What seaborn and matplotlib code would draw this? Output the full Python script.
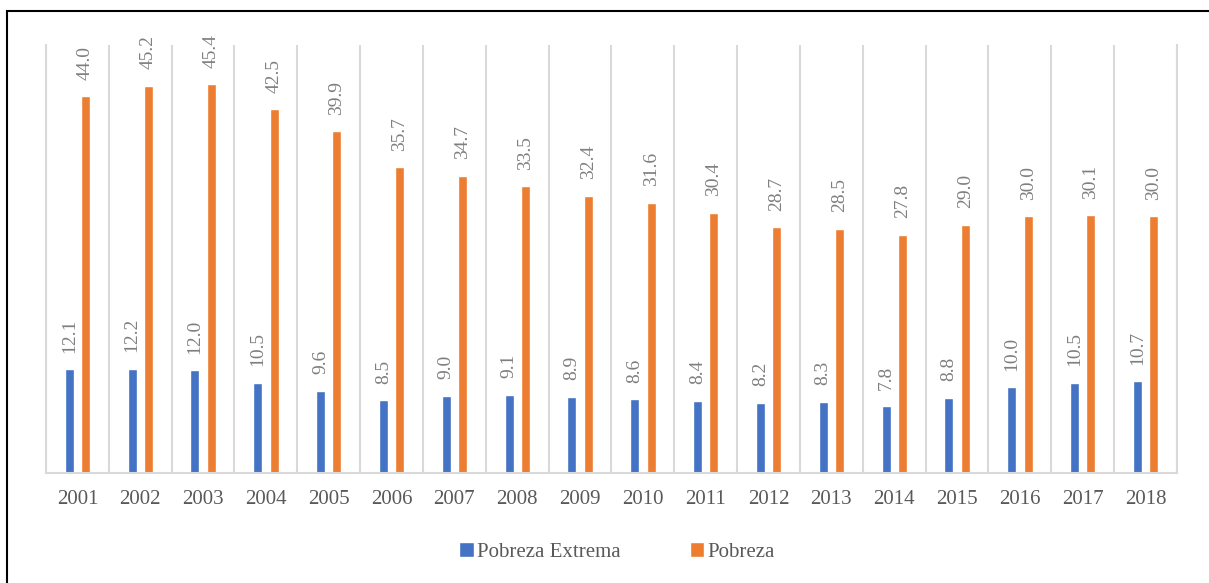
import matplotlib
matplotlib.use("Agg")
import matplotlib.pyplot as plt
import seaborn as sns
import pandas as pd
from matplotlib.patches import Rectangle

years = ["2001", "2002", "2003", "2004", "2005", "2006", "2007", "2008", "2009",
         "2010", "2011", "2012", "2013", "2014", "2015", "2016", "2017", "2018"]
pobreza_extrema = [12.1, 12.2, 12.0, 10.5, 9.6, 8.5, 9.0, 9.1, 8.9,
                   8.6, 8.4, 8.2, 8.3, 7.8, 8.8, 10.0, 10.5, 10.7]
pobreza = [44.0, 45.2, 45.4, 42.5, 39.9, 35.7, 34.7, 33.5, 32.4,
           31.6, 30.4, 28.7, 28.5, 27.8, 29.0, 30.0, 30.1, 30.0]
series_names = ["Pobreza Extrema", "Pobreza"]
colors = ["#4472C4", "#ED7D31"]

df = pd.DataFrame({
    "year": years * 2,
    "value": pobreza_extrema + pobreza,
    "serie": [series_names[0]] * len(years) + [series_names[1]] * len(years),
})

sns.set_theme(style="white")
plt.rcParams["font.family"] = ["Liberation Serif", "DejaVu Serif"]

fig = plt.figure(figsize=(12.09, 5.83), dpi=100)
ax = fig.add_axes([46 / 1209, 1 - 473 / 583, (1177 - 46) / 1209, (473 - 45) / 583])

sns.barplot(data=df, x="year", y="value", hue="serie", palette=colors,
            width=0.52, gap=0.45, ax=ax, legend=True, saturation=1)

for cont in ax.containers:
    ax.bar_label(cont, fmt="%.1f", rotation=90, padding=12, fontsize=14,
                 color="#7f7f7f")

ax.set_xlim(-0.5, len(years) - 0.5)
ax.set_ylim(0, 50)
ax.set_yticks([])
ax.set_xlabel("")
ax.set_ylabel("")
ax.set_xticks([i - 0.5 for i in range(len(years) + 1)], minor=True)
ax.grid(True, which="minor", axis="x", color="#d9d9d9", linewidth=1.5)
ax.grid(False, which="major")
ax.tick_params(axis="x", which="both", length=0, pad=12, labelsize=15,
               labelcolor="#595959")
for s in ["left", "right", "bottom"]:
    ax.spines[s].set_color("#d9d9d9")
    ax.spines[s].set_linewidth(1.5)
ax.spines["top"].set_visible(False)

handles, labels = ax.get_legend_handles_labels()
ax.legend_.remove()
fig.legend(handles, labels, loc="center", bbox_to_anchor=(617 / 1209, 1 - 552 / 583),
           ncol=2, frameon=False, fontsize=15, handlelength=0.7, handleheight=0.7,
           handletextpad=0.15, columnspacing=3.3, labelcolor="#595959")

fig.patches.append(Rectangle((6.5 / 1209, -0.1), 1.1, 1 - 11.5 / 583 + 0.1,
                             transform=fig.transFigure, fill=False,
                             edgecolor="black", linewidth=1.5, clip_on=False))

fig.savefig("out.png", dpi=100)
